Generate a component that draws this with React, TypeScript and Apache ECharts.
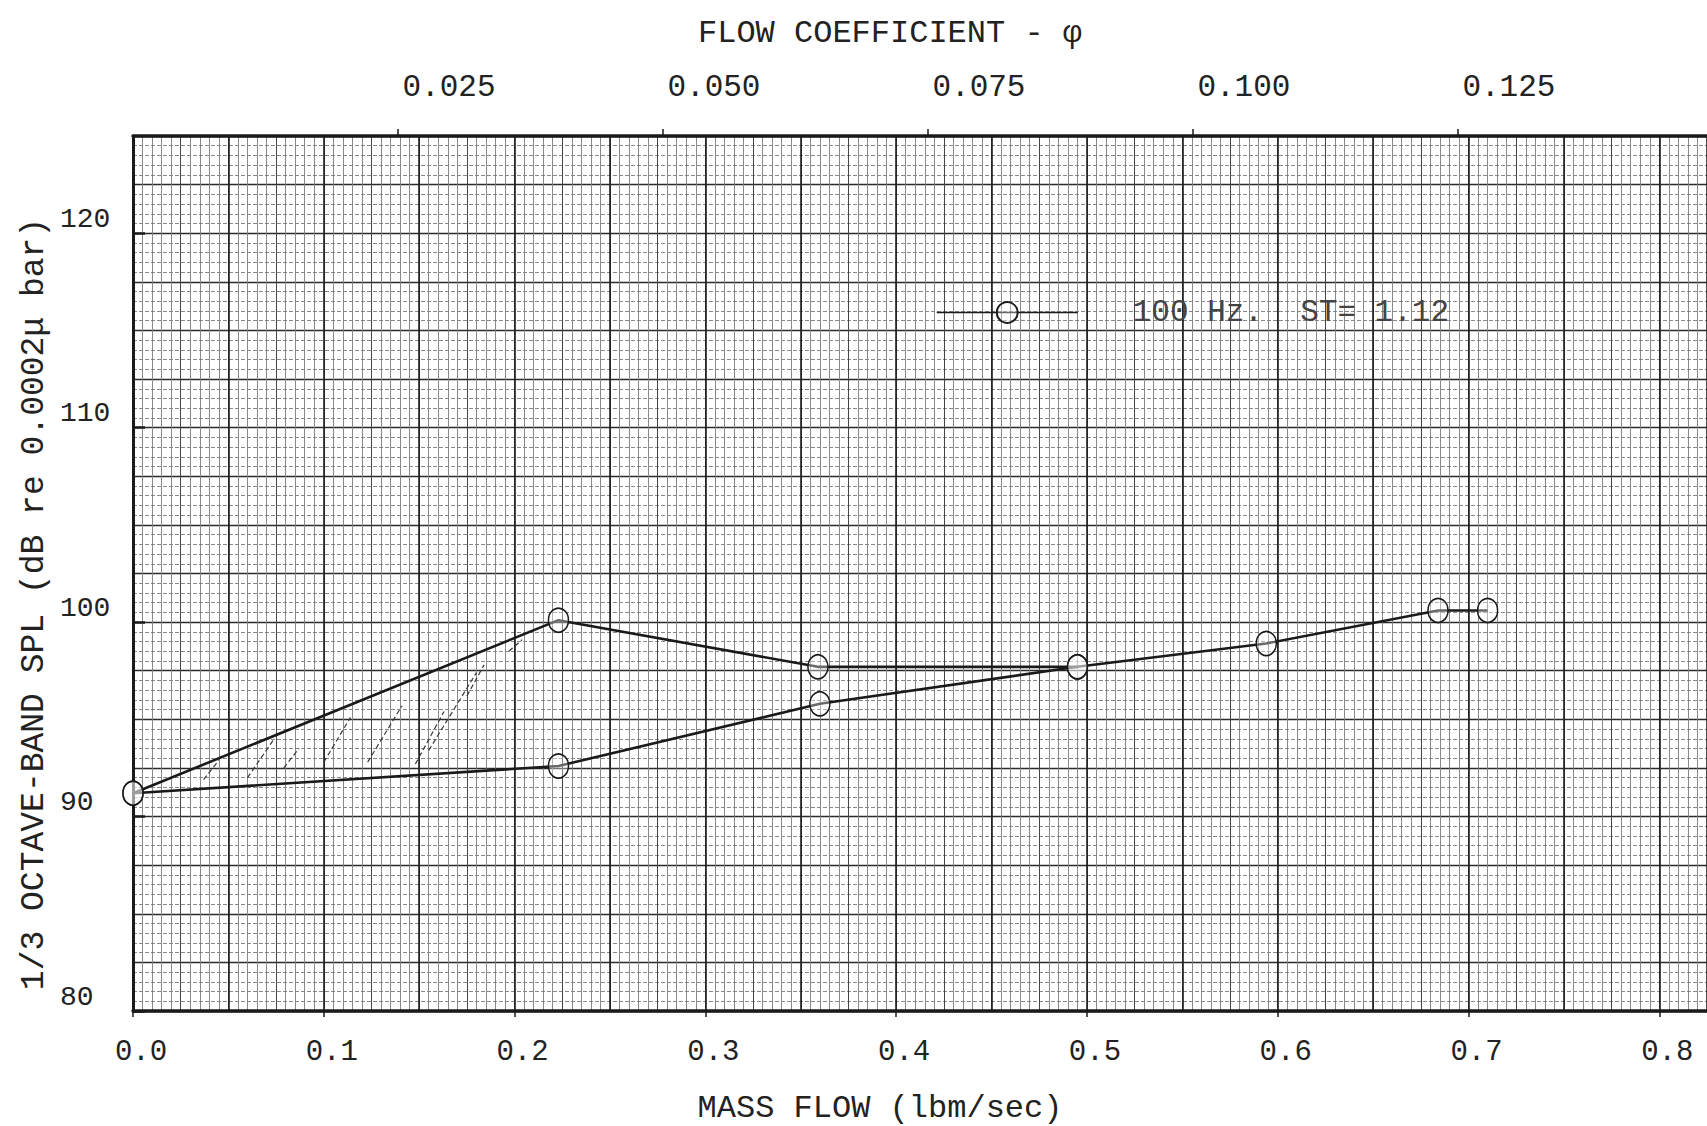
import React, { useEffect, useRef } from 'react';
import * as echarts from 'echarts';

// ---- data ----
const UPPER_X = [0.0, 0.223, 0.359, 0.495, 0.594, 0.684, 0.71];
const UPPER_Y = [91.2, 100.1, 97.7, 97.7, 98.9, 100.6, 100.6];
const LOWER_X = [0.0, 0.223, 0.36, 0.495];
const LOWER_Y = [91.2, 92.6, 95.8, 97.7];
// hand-drawn hatching between the two curves: [x1, y1, x2, y2]
const HATCH = [
  [0.037, 91.9, 0.045, 92.9],
  [0.06, 92.0, 0.074, 94.0],
  [0.079, 92.5, 0.087, 93.5],
  [0.1, 92.8, 0.114, 95.1],
  [0.123, 92.8, 0.141, 95.7],
  [0.148, 92.7, 0.163, 95.4],
  [0.155, 93.4, 0.18, 97.4],
  [0.175, 96.2, 0.184, 97.8],
  [0.197, 98.5, 0.204, 99.1],
];

const SERIES_NAME = '100 Hz.  ST= 1.12';
const X_TITLE = 'MASS FLOW (lbm/sec)';
const TOP_TITLE = 'FLOW COEFFICIENT - φ';
const Y_TITLE = '1/3 OCTAVE-BAND SPL (dB re 0.0002μ bar)';

const X_MIN = 0;
const X_MAX = 0.825;
const X_INTERVAL = 0.1;
const PHI_MIN = 0;
const PHI_MAX = 0.1485;
const PHI_INTERVAL = 0.025;
const Y_MIN = 80;
const Y_MAX = 125;
const Y_INTERVAL = 10;

const MONO = "'Liberation Mono', 'DejaVu Sans Mono', monospace";
const INK = '#1a1a1a';

export default function App() {
  const ref = useRef<HTMLDivElement>(null);

  useEffect(() => {
    if (!ref.current) return;
    const chart = echarts.init(ref.current, undefined, { renderer: 'svg' });

    const gridAxisBase = {
      type: 'value',
      min: X_MIN,
      max: X_MAX,
      axisLine: { show: false },
      axisTick: { show: false },
      axisLabel: { show: false },
    };

    const option: any = {
      animation: false,
      backgroundColor: '#ffffff',
      grid: { left: 133, top: 136, right: -18, bottom: 115 },
      legend: {
        data: [SERIES_NAME],
        left: 931,
        top: 292,
        itemWidth: 141,
        itemHeight: 26,
        lineStyle: { width: 1.5, color: INK },
        textStyle: {
          fontFamily: MONO,
          fontSize: 31,
          color: '#444',
          padding: [0, 0, 0, 50],
        },
      },
      xAxis: [
        {
          type: 'value',
          position: 'bottom',
          min: X_MIN,
          max: X_MAX,
          interval: X_INTERVAL,
          axisLine: { show: true, lineStyle: { color: INK, width: 3.5 } },
          axisTick: { show: true, length: 6, lineStyle: { color: INK, width: 1.5 } },
          axisLabel: {
            margin: 27,
            fontFamily: MONO,
            fontSize: 29,
            color: '#222',
            showMaxLabel: false,
            padding: [0, 0, 0, 16],
            formatter: (v: number) => v.toFixed(1),
          },
          splitLine: { show: false },
        },
        {
          type: 'value',
          position: 'top',
          min: PHI_MIN,
          max: PHI_MAX,
          interval: PHI_INTERVAL,
          axisLine: { show: true, lineStyle: { color: INK, width: 3.5 } },
          axisTick: { show: true, length: 7, lineStyle: { color: INK, width: 1.5 } },
          axisLabel: {
            margin: 33,
            fontFamily: MONO,
            fontSize: 31,
            color: '#222',
            showMinLabel: false,
            showMaxLabel: false,
            padding: [0, 0, 0, 102],
            formatter: (v: number) => v.toFixed(3),
          },
          splitLine: { show: false },
        },
        {
          ...gridAxisBase,
          position: 'bottom',
          interval: 0.025,
          splitLine: { show: true, lineStyle: { color: '#444', width: 1 } },
          minorTick: { show: false, splitNumber: 5 },
          minorSplitLine: { show: true, lineStyle: { color: '#7c7c7c', width: 0.9 } },
        },
        {
          ...gridAxisBase,
          position: 'bottom',
          interval: 0.05,
          splitLine: { show: true, lineStyle: { color: '#1e1e1e', width: 1.6 } },
        },
      ],
      yAxis: [
        {
          type: 'value',
          position: 'left',
          min: Y_MIN,
          max: Y_MAX,
          interval: Y_INTERVAL,
          axisLine: { show: true, lineStyle: { color: INK, width: 3 } },
          axisTick: { show: true, inside: true, length: 12, lineStyle: { color: INK, width: 2.5 } },
          axisLabel: {
            margin: 73,
            align: 'left',
            verticalAlign: 'bottom',
            lineHeight: 28,
            fontFamily: MONO,
            fontSize: 28,
            color: '#222',
            showMaxLabel: false,
          },
          splitLine: { show: false },
        },
        {
          type: 'value',
          position: 'left',
          min: Y_MIN,
          max: Y_MAX,
          interval: 2.5,
          axisLine: { show: false },
          axisTick: { show: false },
          axisLabel: { show: false },
          splitLine: { show: true, lineStyle: { color: '#2a2a2a', width: 1.3 } },
          minorTick: { show: false, splitNumber: 5 },
          minorSplitLine: { show: true, lineStyle: { color: '#7a7a7a', width: 0.9, type: [4, 2] } },
        },
      ],
      graphic: [
        {
          type: 'text',
          x: 890,
          y: 33,
          style: {
            text: TOP_TITLE,
            font: `32px ${MONO}`,
            fill: '#222',
            align: 'center',
            verticalAlign: 'middle',
          },
        },
        {
          type: 'text',
          x: 880,
          y: 1108,
          style: {
            text: X_TITLE,
            font: `32px ${MONO}`,
            fill: '#222',
            align: 'center',
            verticalAlign: 'middle',
          },
        },
        {
          type: 'text',
          x: 34,
          y: 604,
          rotation: Math.PI / 2,
          style: {
            text: Y_TITLE,
            font: `33px ${MONO}`,
            fill: '#222',
            align: 'center',
            verticalAlign: 'middle',
          },
        },
      ],
      series: [
        {
          type: 'custom',
          name: 'hatch',
          xAxisIndex: 0,
          yAxisIndex: 0,
          silent: true,
          z: 3,
          encode: { x: [0, 2], y: [1, 3] },
          data: HATCH,
          renderItem: (params: any, api: any) => {
            const p1 = api.coord([api.value(0), api.value(1)]);
            const p2 = api.coord([api.value(2), api.value(3)]);
            return {
              type: 'line',
              shape: { x1: p1[0], y1: p1[1], x2: p2[0], y2: p2[1] },
              style: { stroke: '#3a3a3a', lineWidth: 1.2, lineDash: [5, 3] },
            };
          },
        },
        {
          type: 'line',
          name: SERIES_NAME,
          xAxisIndex: 0,
          yAxisIndex: 0,
          z: 5,
          data: UPPER_X.map((x, i) => [x, UPPER_Y[i]]),
          symbol: 'circle',
          symbolSize: [20, 24],
          lineStyle: { color: INK, width: 2.6 },
          itemStyle: { color: 'rgba(255,255,255,0.35)', borderColor: INK, borderWidth: 1.6 },
        },
        {
          type: 'line',
          name: SERIES_NAME,
          xAxisIndex: 0,
          yAxisIndex: 0,
          z: 5,
          data: LOWER_X.map((x, i) => [x, LOWER_Y[i]]),
          symbol: 'circle',
          symbolSize: [20, 24],
          lineStyle: { color: INK, width: 2.6 },
          itemStyle: { color: 'rgba(255,255,255,0.35)', borderColor: INK, borderWidth: 1.6 },
        },
      ],
    };

    chart.setOption(option);
    return () => chart.dispose();
  }, []);

  return (
    <div
      ref={ref}
      style={{ position: 'fixed', left: 0, top: 0, width: 1707, height: 1126, background: '#fff' }}
    />
  );
}
